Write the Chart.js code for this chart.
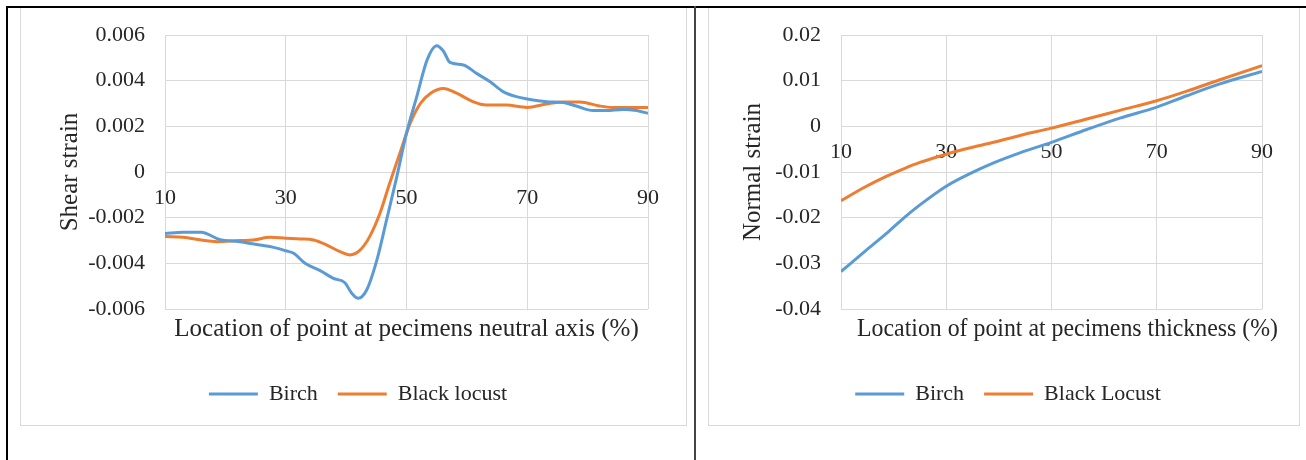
<!DOCTYPE html>
<html>
<head>
<meta charset="utf-8">
<script src="https://cdn.jsdelivr.net/npm/chart.js@4.4.1/dist/chart.umd.min.js"></script>
<style>
  body { margin: 0; background: #fff; width: 1306px; height: 460px; position: relative; overflow: hidden; }
  .frame { position: absolute; top: 7px; height: 417px; border: 1px solid #d9d9d9; }
  #leftFrame { left: 20px; width: 665px; }
  #rightFrame { left: 708px; width: 590px; }
  .frame canvas { display: block; }
  .rule { position: absolute; background: #000; }
</style>
</head>
<body>
<div class="frame" id="leftFrame"><canvas id="shearChart" width="665" height="417"></canvas></div>
<div class="frame" id="rightFrame"><canvas id="normalChart" width="590" height="417"></canvas></div>
<div class="rule" style="left:6px;top:6px;width:1300px;height:2px"></div>
<div class="rule" style="left:6px;top:6px;width:2px;height:454px"></div>
<div class="rule" style="left:694px;top:6px;width:2px;height:454px;background:#444"></div>
<script>
// shared x ticks (location, %)
const xTicks = [10, 30, 50, 70, 90];

// Shear strain along the neutral axis
const shearBirchX = [10, 13, 16, 19, 22.4, 25.7, 28, 30, 31.3, 33.2, 35.7, 37.9, 39.8, 40.9, 42, 43.4, 45.1, 46.7, 48.4, 50, 51.7, 53.4, 55, 56.1, 57.2, 59.4, 61.6, 63.8, 66, 68.2, 70, 73.2, 76, 78.1, 80.9, 83.1, 85.9, 88.1, 90];
const shearBirchY = [-0.00269, -0.00264, -0.00264, -0.00295, -0.00305, -0.0032, -0.0033, -0.00345, -0.00356, -0.004, -0.00432, -0.00466, -0.00485, -0.0053, -0.00553, -0.00517, -0.00385, -0.0021, -0.0002, 0.0017, 0.0033, 0.0049, 0.00553, 0.0053, 0.0048, 0.00469, 0.00432, 0.00396, 0.00352, 0.0033, 0.0032, 0.00308, 0.00304, 0.00289, 0.00269, 0.00269, 0.00274, 0.00269, 0.00257];
const shearLocustX = [10, 13, 16, 18.6, 22.4, 24.6, 27.4, 30, 32.4, 34.6, 36.8, 39, 40.6, 42.3, 43.9, 45.6, 47.2, 48.9, 50.6, 52.3, 54, 56.1, 58.3, 61, 63.2, 66.5, 70, 73.2, 76, 78.7, 82, 84.1, 87.5, 90];
const shearLocustY = [-0.00283, -0.00286, -0.00298, -0.00305, -0.0030, -0.00298, -0.00286, -0.0029, -0.00293, -0.00298, -0.0032, -0.00349, -0.00363, -0.00342, -0.00283, -0.00181, -0.0005, 0.00082, 0.00213, 0.003, 0.00345, 0.00366, 0.00345, 0.00308, 0.00293, 0.00293, 0.00283, 0.00298, 0.00307, 0.00307, 0.00289, 0.00283, 0.00283, 0.00283];
const shearTicks = [-0.006, -0.004, -0.002, 0, 0.002, 0.004, 0.006];

// Normal strain across the thickness
const normalX = [10, 14.2, 18.7, 21.9, 25, 30, 34.6, 39, 44, 50, 56.7, 63, 70, 75.7, 82, 90];
const normalBirchY = [-0.0318, -0.0277, -0.0234, -0.0201, -0.0172, -0.0131, -0.0103, -0.008, -0.0058, -0.0035, -0.0007, 0.0018, 0.0042, 0.0067, 0.0093, 0.012];
const normalLocustY = [-0.0163, -0.0135, -0.0109, -0.0093, -0.0079, -0.0061, -0.0047, -0.0035, -0.002, -0.0004, 0.0016, 0.0035, 0.0056, 0.0077, 0.0102, 0.0133];
const normalTicks = [-0.04, -0.03, -0.02, -0.01, 0, 0.01, 0.02];

const FONT = "'Liberation Serif', 'Times New Roman', serif";
const TEXT = '#262626';
const GRID = '#d9d9d9';
const BLUE = '#5b9bd5';
const ORANGE = '#ed7d31';

function pts(xs, ys) {
  return xs.map((x, i) => ({ x: x, y: ys[i] }));
}

function line(label, data, color) {
  return {
    label: label, data: data,
    borderColor: color, backgroundColor: color,
    borderWidth: 3, pointRadius: 0,
    cubicInterpolationMode: 'monotone'
  };
}

function strainChart(id, o) {
  return new Chart(document.getElementById(id), {
    type: 'line',
    data: {
      datasets: [
        line('Birch', o.birch, BLUE),
        line(o.locustLabel, o.locust, ORANGE)
      ]
    },
    plugins: [{
      id: 'titleShift',
      // nudge the x title a little, like Excel does
      afterLayout: chart => {
        const s = chart.scales.x2;
        s.left += o.titleShift;
        s.right += o.titleShift;
      }
    }],
    options: {
      responsive: false,
      animation: false,
      events: [],
      layout: { padding: { left: o.padLeft, right: o.padRight, top: 27, bottom: 10 } },
      plugins: {
        tooltip: { enabled: false },
        legend: {
          position: 'bottom',
          labels: {
            usePointStyle: true, pointStyle: 'line', pointStyleWidth: 49,
            padding: 20, color: TEXT, font: { family: FONT, size: 22 }
          }
        }
      },
      scales: {
        x: {
          type: 'linear', min: 10, max: 90,
          position: { y: 0 },
          afterBuildTicks: s => { s.ticks = xTicks.map(v => ({ value: v })); },
          grid: { color: GRID, drawTicks: false },
          border: { color: GRID },
          ticks: { padding: 13, color: TEXT, font: { family: FONT, size: 22 } }
        },
        // bottom axis only carries the title
        x2: {
          type: 'linear', min: 10, max: 90,
          position: 'bottom',
          grid: { display: false, drawTicks: false },
          border: { display: false },
          ticks: { display: false },
          title: {
            display: true, text: o.xTitle, color: TEXT,
            font: { family: FONT, size: 25 },
            padding: { top: 5, bottom: 19 }
          }
        },
        y: {
          min: o.yTicks[0], max: o.yTicks[o.yTicks.length - 1],
          afterBuildTicks: s => { s.ticks = o.yTicks.map(v => ({ value: v })); },
          afterFit: s => { s.width = o.yWidth; s.paddingTop = 0; },
          grid: { color: GRID, drawTicks: false },
          border: { color: GRID },
          ticks: { padding: 20, color: TEXT, font: { family: FONT, size: 22 }, callback: v => String(v) },
          title: {
            display: true, text: o.yTitle, color: TEXT,
            font: { family: FONT, size: 25 },
            padding: { top: o.titlePad, bottom: 0 }
          }
        }
      }
    }
  });
}

strainChart('shearChart', {
  birch: pts(shearBirchX, shearBirchY),
  locust: pts(shearLocustX, shearLocustY),
  locustLabel: 'Black locust',
  yTicks: shearTicks,
  yTitle: 'Shear strain',
  xTitle: 'Location of point at pecimens neutral axis (%)',
  padLeft: 47, padRight: 38, yWidth: 97, titlePad: -13, titleShift: 0
});

strainChart('normalChart', {
  birch: pts(normalX, normalBirchY),
  locust: pts(normalX, normalLocustY),
  locustLabel: 'Black Locust',
  yTicks: normalTicks,
  yTitle: 'Normal strain',
  xTitle: 'Location of point at pecimens thickness (%)',
  padLeft: 45, padRight: 37, yWidth: 87, titlePad: -16, titleShift: 16
});
</script>
</body>
</html>
